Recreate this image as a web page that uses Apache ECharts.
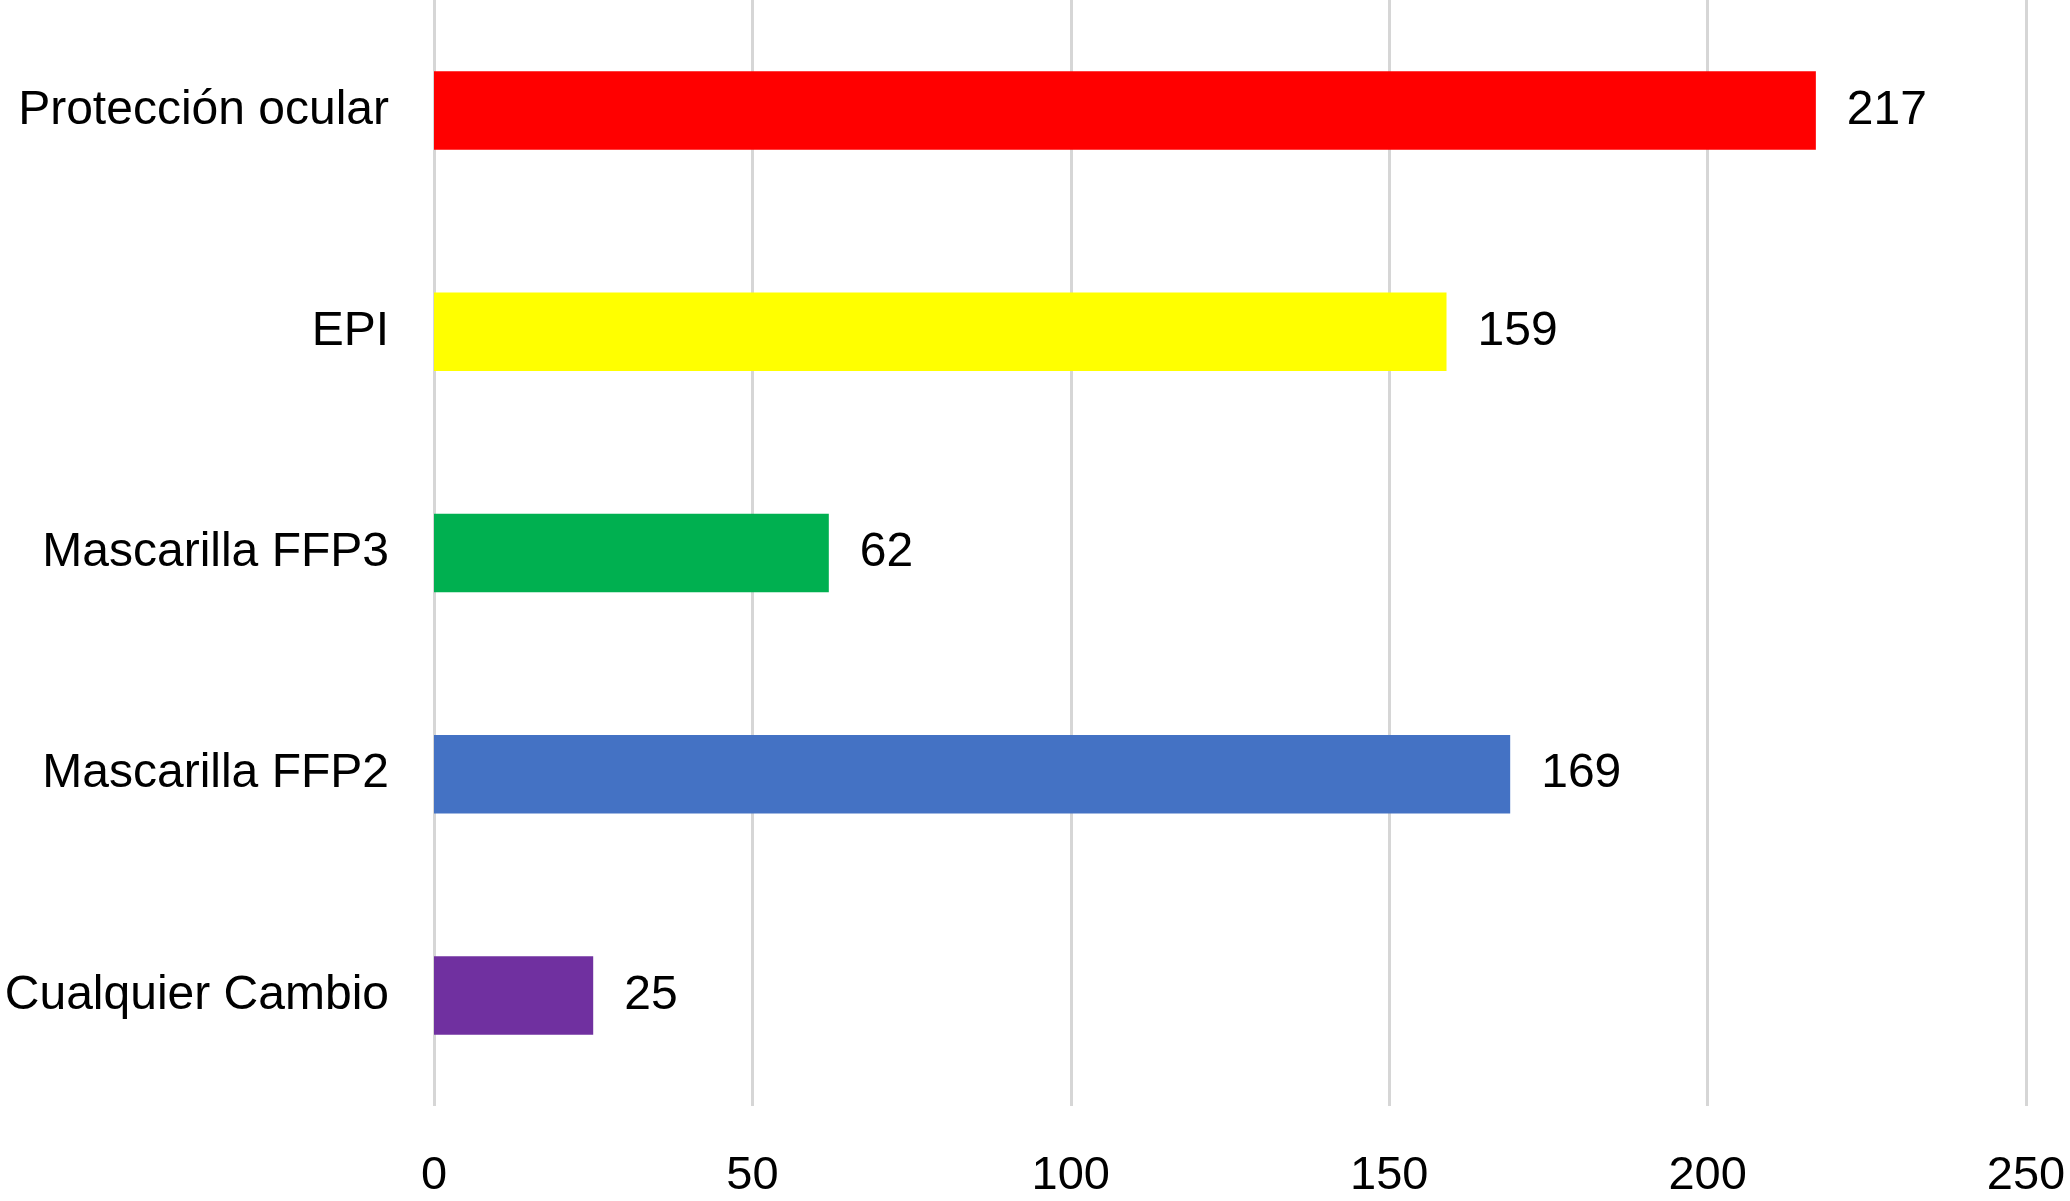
<!DOCTYPE html>
<html>
<head>
<meta charset="utf-8">
<script src="https://cdn.jsdelivr.net/npm/echarts@6/dist/echarts.min.js"></script>
<style>
    html, body { margin: 0; padding: 0; background: #fff; }
    #chart { width: 2070px; height: 1201px; }
</style>
</head>
<body>
<div id="chart"></div>
<script>
const categories = ['Protección ocular', 'EPI', 'Mascarilla FFP3', 'Mascarilla FFP2', 'Cualquier Cambio'];
const values = [217, 159, 62, 169, 25];
const barColors = ['#FF0000', '#FFFF00', '#00B050', '#4472C4', '#7030A0'];
const xTicks = [0, 50, 100, 150, 200, 250];

const font = '"Liberation Sans", Arial, Helvetica, sans-serif';

let chart = echarts.init(document.getElementById('chart'));

let options = {
    animation: false,
    backgroundColor: '#fff',
    grid: {
        left: 434,
        right: 44,
        top: -2,
        bottom: 95
    },
    xAxis: {
        type: 'value',
        min: xTicks[0],
        max: xTicks[xTicks.length - 1],
        interval: xTicks[1] - xTicks[0],
        axisLine: { show: false },
        axisTick: { show: false },
        splitLine: {
            show: true,
            lineStyle: { color: '#D6D6D6', width: 3 }
        },
        axisLabel: {
            color: '#000',
            fontFamily: font,
            fontSize: 47,
            lineHeight: 47,
            margin: 47
        }
    },
    yAxis: {
        type: 'category',
        data: categories,
        inverse: true,
        axisLine: { show: false },
        axisTick: { show: false },
        splitLine: { show: false },
        axisLabel: {
            color: '#000',
            fontFamily: font,
            fontSize: 48,
            margin: 45
        }
    },
    series: [{
        type: 'bar',
        barWidth: '35.5%',
        data: values.map((v, i) => ({
            value: v,
            itemStyle: { color: barColors[i] }
        })),
        label: {
            show: true,
            position: 'right',
            distance: 31,
            color: '#000',
            fontFamily: font,
            fontSize: 48
        }
    }]
};

chart.setOption(options);
</script>
</body>
</html>
